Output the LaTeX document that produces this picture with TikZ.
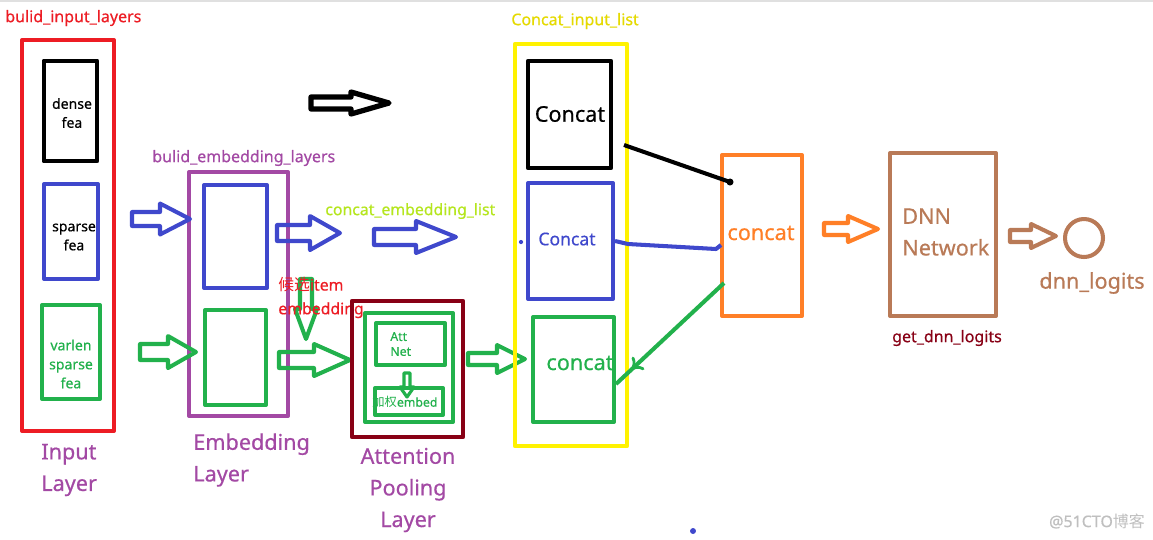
\documentclass[tikz,border=0pt]{standalone}
\usepackage{fontspec}
\setmainfont{Noto Sans}[FakeBold=0.5]
\newfontfamily\cjk{Noto Sans CJK SC}
\usetikzlibrary{fit}
\usetikzlibrary{arrows.meta}
\usetikzlibrary{decorations.markings}

\definecolor{pRed}{RGB}{237,28,36}
\definecolor{pBlue}{RGB}{63,72,204}
\definecolor{pGreen}{RGB}{34,177,76}
\definecolor{pPurple}{RGB}{163,73,164}
\definecolor{pYellow}{RGB}{255,242,0}
\definecolor{pLime}{RGB}{181,230,29}
\definecolor{pOrange}{RGB}{255,127,39}
\definecolor{pBrown}{RGB}{185,122,87}
\definecolor{pDark}{RGB}{136,0,21}

\newcommand\fsSmall{\fontsize{7}{8.5}\selectfont}
\newcommand\fsNote{\fontsize{8}{10.8}\selectfont}
\newcommand\fsTag{\fontsize{9.1}{11}\selectfont}
\newcommand\fsMid{\fontsize{9}{13.5}\selectfont}
\newcommand\fsBig{\fontsize{12.3}{18}\selectfont}

% hollow block arrow: length, half shaft, half head, head length
\tikzset{
  pics/fatarrow/.style n args={4}{code={
    \draw (0,-#2) -- ({#1-#4},-#2) -- ({#1-#4},-#3) -- (#1,0) -- ({#1-#4},#3) -- ({#1-#4},#2) -- (0,#2) -- cycle;
  }},
}

\begin{document}
\begin{tikzpicture}[x=0.02cm, y=-0.02cm, line join=round,
  box/.style={draw=#1, line width=2.3pt, inner sep=0pt},
  txt/.style={inner sep=0pt, text=#1},
  fat/.style={draw=#1, line width=2.3pt}]
  \useasboundingbox[fill=white] (0,0) rectangle (1153,539);
  \draw[black!12, line width=1pt] (0,0.8) -- (1153,0.8);

  % input layer
  \node[box=pRed, fit={(22,40)(114,431)}] (inbox) {};
  \node[box=black, line width=2.8pt, fit={(44,61)(97,161)}] (dense) {};
  \node[box=pBlue, fit={(44,184)(98,279)}] (sparse) {};
  \node[box=pGreen, fit={(42,305)(100,399)}] (varlen) {};
  \node[txt=pRed, anchor=west, font=\fsTag] (inname) at (5,18) {bulid\_input\_layers};
  \node[txt=black, align=center, font=\fsNote] (densetxt) at (72,113) {dense\\fea};
  \node[txt=black, align=center, font=\fsNote] (sparsetxt) at (74,237) {sparse\\fea};
  \node[txt=pGreen, align=center, font=\fsNote] (varlentxt) at (71,364) {varlen\\sparse\\fea};
  \node[txt=pPurple, align=left, anchor=west, font=\fsBig] (inlabel) at (41,470) {Input\\Layer};

  % embedding layer
  \node[box=pPurple, fit={(189,172)(288,416)}] (embbox) {};
  \node[box=pBlue, fit={(204,185)(267,288)}] (embsparse) {};
  \node[box=pGreen, fit={(205,310)(266,405)}] (embvarlen) {};
  \node[txt=pPurple, anchor=west, font=\fsTag] (embname) at (152,158) {bulid\_embedding\_layers};
  \node[txt=pPurple, align=left, anchor=west, font=\fsBig] (emblabel) at (193,460) {Embedding\\Layer};

  \pic[fat=pBlue] at (132,219) {fatarrow={58}{7}{15.5}{30}};
  \pic[fat=pGreen] at (140,352) {fatarrow={56}{8}{16}{28}};
  \pic[fat=pBlue] at (277,233) {fatarrow={63}{8}{17}{30}};
  \pic[fat=pBlue] at (374,237) {fatarrow={82}{8}{16}{40}};
  \pic[fat=black, line width=3pt] at (311,103) {fatarrow={78}{6}{11}{38}};
  \pic[fat=pGreen, rotate=-90] at (306,279) {fatarrow={60}{6}{11}{30}};
  \pic[fat=pGreen] at (279,360) {fatarrow={71}{8}{16}{36}};
  \node[txt=pLime, anchor=west, font=\fsMid] (embcat) at (325,211) {concat\_embedding\_list};
  \node[txt=pRed, align=left, anchor=north west, font=\fsMid] (cand) at (278,277) {{\cjk 候选}item\\embedding};

  % attention pooling
  \node[box=pDark, line width=2.6pt, fit={(352,301)(463,437)}] (attbox) {};
  \node[txt=pGreen, anchor=west, font=\fsSmall] (weighted) at (372,402) {{\cjk 加权}embed};
  \node[box=pGreen, fit={(365,313)(453,422)}] (attin) {};
  \node[box=pGreen, fit={(376,323)(445,365)}] (attnet) {};
  \node[box=pGreen, fit={(375,388)(443,415)}] (attout) {};
  \node[txt=pGreen, align=left, anchor=west, font=\fsSmall] (attnettxt) at (390,344) {Att\\Net};
  \pic[fat=pGreen, line width=1.8pt, rotate=-90] at (407,373) {fatarrow={24}{3}{7}{10}};
  \node[txt=pPurple, align=center, font=\fsBig] (attlabel) at (408,490) {Attention\\Pooling\\Layer};
  \pic[fat=pGreen] at (468,359) {fatarrow={57}{6}{14}{28}};

  % concat input list
  \node[box=pYellow, line width=2.6pt, fit={(515,44)(627,446)}] (catlist) {};
  \node[txt=pYellow!90!black, anchor=west, font=\fsTag] (catname) at (511,21) {Concat\_input\_list};
  \node[box=black, line width=2.6pt, fit={(528,61)(611,168)}] (cat1) {};
  \node[box=pBlue, fit={(528,183)(613,299)}] (cat2) {};
  \node[box=pGreen, fit={(533,317)(614,422)}] (cat3) {};
  \node[txt=black, font=\fsBig] (cat1txt) at (570,114) {Concat};
  \node[txt=pBlue, font=\fontsize{10}{12}\selectfont] (cat2txt) at (567,239) {Concat};
  \node[txt=pGreen, font=\fsBig] (cat3txt) at (580,363) {concat};
  \fill[pBlue] (521,242) circle (1.2pt);

  % concat, dnn, logits
  \node[box=pOrange, fit={(722,155)(802,316)}] (allcat) {};
  \node[txt=pOrange, font=\fsBig] (allcattxt) at (761,233) {concat};
  \node[box=pBrown, fit={(890,153)(996,316)}] (dnn) {};
  \node[txt=pBrown, align=left, anchor=west, font=\fsBig] (dnntxt) at (902,232) {DNN\\Network};
  \node[txt=pDark, font=\fsTag] (dnnname) at (947,338) {get\_dnn\_logits};
  \node[circle, draw=pBrown, line width=2.3pt, minimum size=0.76cm, inner sep=0pt] (logit) at (1084,238) {};
  \node[txt=pBrown, font=\fsBig] (logittxt) at (1092,283) {dnn\_logits};
  \pic[fat=pOrange] at (824,229) {fatarrow={54}{6}{13}{30}};
  \pic[fat=pBrown] at (1010,236) {fatarrow={46}{6}{12}{25}};

  % lines into concat
  \coordinate (kA) at (624,145);
  \coordinate (kB) at (730,182);
  \coordinate (kC) at (716,249);
  \coordinate (kD) at (724,283);
  \coordinate (kE) at (616,384);
  \draw[line width=2.3pt] (kA) -- (kB);
  \fill (kB) circle (2pt);
  \draw[pBlue, line width=2.3pt] (cat2.east) -- (628,244) -- (kC) -- (721,245);
  \draw[pGreen, line width=2.3pt, postaction={decorate, decoration={markings,
      mark=at position 0.86 with {\arrow[line width=1.6pt]{To[length=6pt, width=10pt, open]}}}}] (kD) -- (kE);

  \fill[pBlue] (693,531) circle (1.7pt);
  \node[txt=black!25, font=\fsTag] (mark) at (1097,521) {@51CTO{\cjk 博客}};
\end{tikzpicture}
\end{document}
